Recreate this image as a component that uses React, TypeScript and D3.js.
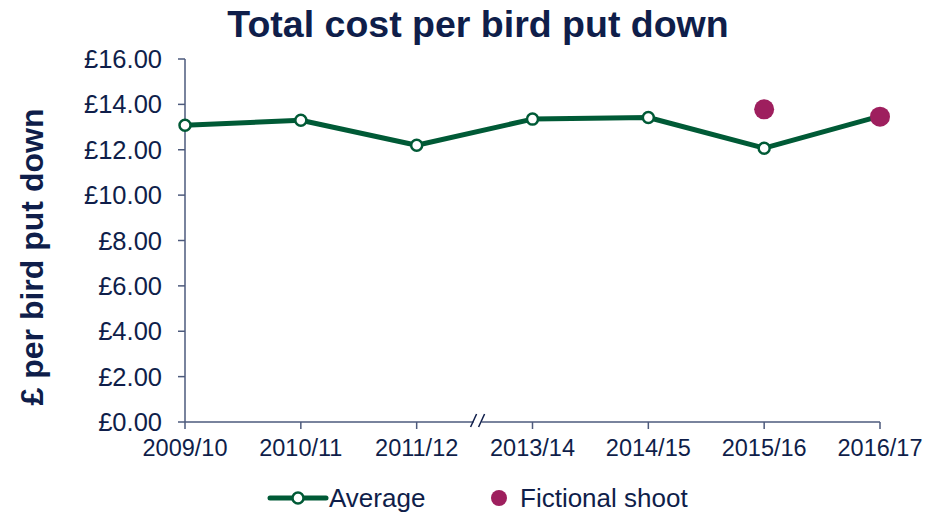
import React from "react";
import * as d3 from "d3";

const categories = ["2009/10", "2010/11", "2011/12", "2013/14", "2014/15", "2015/16", "2016/17"];
const averageValues = [13.08, 13.3, 12.2, 13.35, 13.42, 12.07, 13.48];
const fictionalValues: (number | null)[] = [null, null, null, null, null, 13.78, 13.46];
const yTicks = [0, 2, 4, 6, 8, 10, 12, 14, 16];

const W = 926, H = 515;
const left = 185, right = 880, top = 59, bottom = 422;
const navy = "#0f1e4a";
const axisCol = "#4d5a7c";
const green = "#005a36";
const magenta = "#9e1f5e";

export default function App() {
  const x = d3.scalePoint<string>().domain(categories).range([left, right]);
  const y = d3.scaleLinear().domain([0, 16]).range([bottom, top]);
  const line = d3.line<number>().x((_, i) => x(categories[i])!).y((d) => y(d));
  const fmt = (v: number) => "£" + v.toFixed(2);
  const breakX = (x(categories[2])! + x(categories[3])!) / 2 + 3;
  return (
    <svg width={W} height={H} style={{ position: "absolute", left: 0, top: 0, fontFamily: "Liberation Sans, Arial, sans-serif" }}>
      <rect width={W} height={H} fill="#fff" />
      <text x={478} y={37} textAnchor="middle" fontSize={37.5} fontWeight="bold" fill={navy}>Total cost per bird put down</text>
      <text transform={`translate(43,257) rotate(-90)`} textAnchor="middle" fontSize={32} fontWeight="bold" fill={navy}>£ per bird put down</text>
      {/* y axis */}
      <line x1={left} x2={left} y1={top} y2={bottom} stroke={axisCol} strokeWidth={1.5} />
      {yTicks.map((t) => (
        <g key={t}>
          <line x1={left - 7} x2={left} y1={y(t)} y2={y(t)} stroke={axisCol} strokeWidth={1.5} />
          <text x={162} y={y(t) + 9} textAnchor="end" fontSize={25.5} fill={navy}>{fmt(t)}</text>
        </g>
      ))}
      {/* x axis */}
      <line x1={left} x2={right} y1={bottom} y2={bottom} stroke={axisCol} strokeWidth={1.5} />
      {categories.map((c) => (
        <g key={c}>
          <line x1={x(c)!} x2={x(c)!} y1={bottom} y2={bottom + 7} stroke={axisCol} strokeWidth={1.5} />
          <text x={x(c)!} y={bottom + 34} textAnchor="middle" fontSize={23.5} fill={navy}>{c}</text>
        </g>
      ))}
      {/* axis break */}
      <rect x={breakX - 4} y={bottom - 2} width={8} height={4} fill="#fff" />
      <line x1={breakX - 7} x2={breakX - 1} y1={bottom + 5} y2={bottom - 8} stroke={navy} strokeWidth={1.5} />
      <line x1={breakX + 1} x2={breakX + 7} y1={bottom + 5} y2={bottom - 8} stroke={navy} strokeWidth={1.5} />
      {/* average line */}
      <path d={line(averageValues)!} fill="none" stroke={green} strokeWidth={5} strokeLinejoin="round" />
      {averageValues.map((v, i) => (
        <circle key={i} cx={x(categories[i])!} cy={y(v)} r={5.5} fill="#fff" stroke={green} strokeWidth={2.5} />
      ))}
      {fictionalValues.map((v, i) => v == null ? null : (
        <circle key={"f" + i} cx={x(categories[i])!} cy={y(v)} r={10} fill={magenta} />
      ))}
      {/* legend */}
      <line x1={270} x2={326} y1={498} y2={498} stroke={green} strokeWidth={5} strokeLinecap="round" />
      <circle cx={298} cy={498} r={5.5} fill="#fff" stroke={green} strokeWidth={2.5} />
      <text x={329} y={507} fontSize={26} fill={navy}>Average</text>
      <circle cx={499} cy={498} r={8} fill={magenta} />
      <text x={520} y={507} fontSize={26} fill={navy}>Fictional shoot</text>
    </svg>
  );
}
